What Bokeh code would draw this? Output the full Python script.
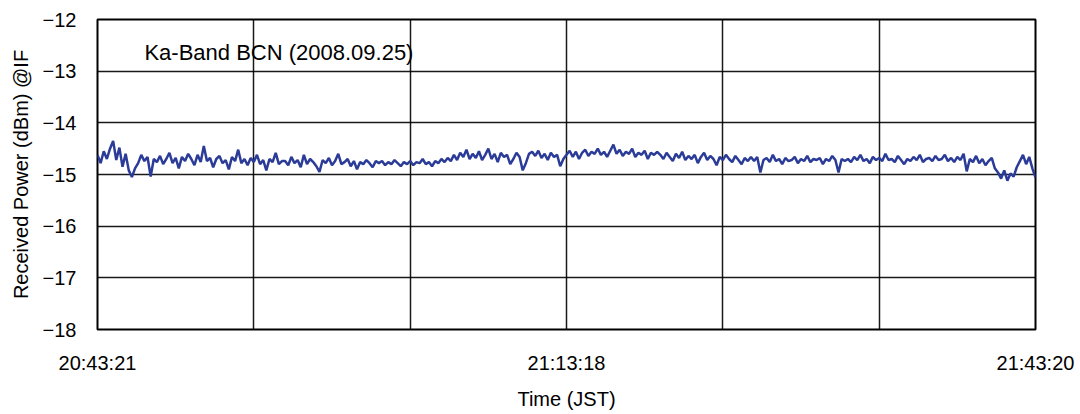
from bokeh.plotting import figure
from bokeh.models import FixedTicker, Label
from bokeh.embed import file_html
from bokeh.resources import INLINE

# time axis: minutes after 20:43:21, one sample every 0.2 min
t_min = [round(i * 0.2, 1) for i in range(301)]

power_a = [-14.62, -14.78, -14.55, -14.70, -14.50, -14.35, -14.72, -14.48, -14.85, -14.60,
           -14.92, -15.05, -14.88, -14.78, -14.62, -14.74, -14.66, -15.04, -14.70, -14.76,
           -14.64, -14.80, -14.70, -14.58, -14.78, -14.68, -14.88, -14.66, -14.74, -14.60]
power_b = [-14.70, -14.82, -14.62, -14.76, -14.45, -14.74, -14.68, -14.86, -14.70, -14.64,
           -14.78, -14.72, -14.90, -14.66, -14.74, -14.52, -14.78, -14.70, -14.82, -14.68,
           -14.76, -14.62, -14.80, -14.72, -14.92, -14.70, -14.76, -14.58, -14.80, -14.74]
power_c = [-14.74, -14.82, -14.66, -14.78, -14.72, -14.86, -14.62, -14.80, -14.70, -14.76,
           -14.84, -14.95, -14.72, -14.78, -14.68, -14.82, -14.74, -14.60, -14.80, -14.76,
           -14.70, -14.84, -14.74, -14.90, -14.76, -14.80, -14.72, -14.78, -14.86, -14.74]
power_d = [-14.78, -14.74, -14.82, -14.76, -14.80, -14.72, -14.78, -14.84, -14.76, -14.80,
           -14.74, -14.82, -14.76, -14.78, -14.70, -14.80, -14.76, -14.84, -14.74, -14.78,
           -14.70, -14.76, -14.68, -14.74, -14.62, -14.72, -14.58, -14.66, -14.52, -14.70]
power_e = [-14.60, -14.68, -14.55, -14.72, -14.62, -14.50, -14.70, -14.60, -14.76, -14.58,
           -14.66, -14.62, -14.80, -14.70, -14.58, -14.66, -14.92, -14.78, -14.60, -14.56,
           -14.64, -14.54, -14.68, -14.60, -14.72, -14.58, -14.66, -14.62, -14.84, -14.70]
power_f = [-14.62, -14.54, -14.66, -14.56, -14.70, -14.58, -14.52, -14.64, -14.56, -14.60,
           -14.50, -14.62, -14.56, -14.66, -14.54, -14.42, -14.60, -14.52, -14.64, -14.56,
           -14.60, -14.50, -14.66, -14.58, -14.62, -14.54, -14.70, -14.58, -14.62, -14.56]
power_g = [-14.62, -14.70, -14.58, -14.66, -14.74, -14.60, -14.68, -14.56, -14.72, -14.64,
           -14.70, -14.62, -14.78, -14.66, -14.58, -14.72, -14.64, -14.70, -14.82, -14.66,
           -14.72, -14.62, -14.70, -14.76, -14.64, -14.72, -14.80, -14.68, -14.74, -14.66]
power_h = [-14.74, -14.66, -14.96, -14.72, -14.68, -14.76, -14.62, -14.74, -14.70, -14.80,
           -14.68, -14.74, -14.72, -14.66, -14.78, -14.70, -14.74, -14.64, -14.76, -14.70,
           -14.72, -14.68, -14.80, -14.70, -14.74, -14.64, -14.72, -14.96, -14.70, -14.74]
power_i = [-14.70, -14.76, -14.66, -14.72, -14.62, -14.74, -14.70, -14.78, -14.66, -14.72,
           -14.68, -14.74, -14.60, -14.72, -14.70, -14.76, -14.64, -14.72, -14.80, -14.70,
           -14.74, -14.66, -14.72, -14.62, -14.76, -14.70, -14.68, -14.74, -14.64, -14.72]
power_j = [-14.70, -14.62, -14.74, -14.68, -14.76, -14.66, -14.72, -14.60, -14.94, -14.70,
           -14.76, -14.64, -14.78, -14.70, -14.82, -14.74, -14.68, -14.88, -14.96, -15.08,
           -14.92, -15.12, -14.98, -15.04, -14.86, -14.74, -14.62, -14.80, -14.66, -14.88,
           -15.06]

power = (power_a + power_b + power_c + power_d + power_e + power_f + power_g +
         power_h + power_i + power_j)

x_ticks = [0, 10, 20, 30, 40, 50, 60]
x_labels = {0: "20:43:21", 10: "", 20: "", 30: "21:13:18", 40: "", 50: "", 60: "21:43:20"}
y_ticks = [-18, -17, -16, -15, -14, -13, -12]
y_labels = {v: "\u2212" + str(abs(v)) for v in y_ticks}

title_text = "Ka-Band BCN (2008.09.25)"

FONT = "Liberation Sans"

p = figure(width=1078, height=412, output_backend="svg", toolbar_location=None,
           x_range=(0, 60), y_range=(-18, -12),
           min_border_left=97, min_border_right=43, min_border_top=19, min_border_bottom=81)

p.line(t_min, power, line_color="#2B3C98", line_width=2.5)

p.outline_line_color = "black"
p.outline_line_width = 2
p.background_fill_color = "white"
p.border_fill_color = "white"

p.xaxis.ticker = FixedTicker(ticks=x_ticks)
p.yaxis.ticker = FixedTicker(ticks=y_ticks)
p.xaxis.major_label_overrides = x_labels
p.yaxis.major_label_overrides = y_labels

for ax in (p.xaxis, p.yaxis):
    ax.axis_line_color = None
    ax.major_tick_line_color = None
    ax.minor_tick_line_color = None
    ax.major_label_text_font = FONT
    ax.major_label_text_font_size = "20px"
    ax.major_label_text_color = "black"
    ax.axis_label_text_font = FONT
    ax.axis_label_text_font_size = "20px"
    ax.axis_label_text_font_style = "normal"
    ax.axis_label_text_color = "black"

p.xaxis.axis_label = "Time (JST)"
p.yaxis.axis_label = "Received Power (dBm) @IF"
p.xaxis.major_label_standoff = 16
p.yaxis.major_label_standoff = 15
p.xaxis.axis_label_standoff = 11
p.yaxis.axis_label_standoff = 8

p.xgrid.grid_line_color = "black"
p.ygrid.grid_line_color = "black"
p.xgrid.grid_line_width = 1.5
p.ygrid.grid_line_width = 1.5
p.xgrid.grid_line_alpha = 0.9
p.ygrid.grid_line_alpha = 0.9

p.add_layout(Label(x=3.0, y=-12.63, text=title_text, text_font=FONT,
                   text_font_size="22px", text_baseline="middle", text_color="black"))

open("out.html", "w").write(file_html(p, INLINE))
